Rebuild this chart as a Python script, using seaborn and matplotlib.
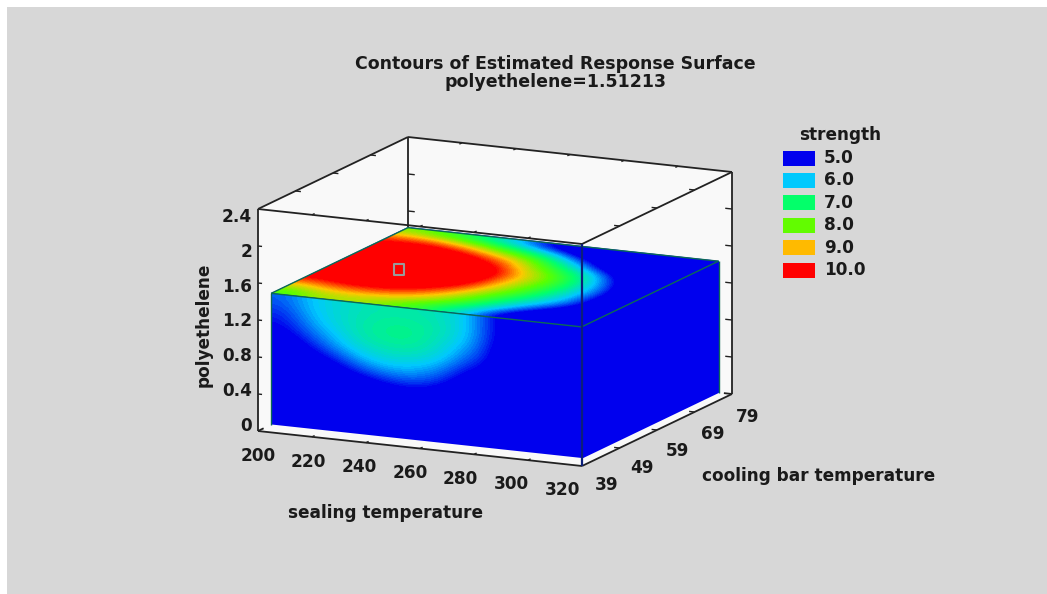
import numpy as np
import matplotlib.pyplot as plt
import seaborn as sns
from matplotlib.colors import Normalize
from matplotlib.patches import Polygon, Rectangle
from matplotlib.transforms import Affine2D

sealing_ticks = [200, 220, 240, 260, 280, 300, 320]
cooling_ticks = [39, 49, 59, 69, 79]
poly_ticks = [0, 0.4, 0.8, 1.2, 1.6, 2.0, 2.4]
poly_labels = ["0", "0.4", "0.8", "1.2", "1.6", "2", "2.4"]
levels = [5.0, 6.0, 7.0, 8.0, 9.0, 10.0]
level_colors = ["#0000ee", "#00c8ff", "#00ff6e", "#5aff00", "#ffc800", "#ff0000"]

# extent of the solid inside the box
cooling_front = 42.5
sealing_right = 315
poly_top = 1.42
marker_point = (223.5, 59.6)

# strength on the top face (rows = cooling low to high, columns = sealing low to high)
top_strength = [
    [7.8, 8.3, 8.5, 8.4, 8.1, 7.6, 6.9, 6.1, 5.1, 4.2, 3.5, 3.0],
    [9.0, 9.3, 9.4, 9.3, 9.0, 8.5, 7.8, 6.9, 6.0, 5.1, 4.2, 3.3],
    [10.0, 10.2, 10.3, 10.2, 9.8, 9.2, 8.3, 7.5, 6.6, 5.9, 5.1, 3.7],
    [10.6, 10.9, 11.0, 10.9, 10.5, 9.9, 8.9, 8.0, 7.1, 6.2, 5.2, 3.8],
    [10.9, 11.2, 11.4, 11.3, 10.9, 10.3, 9.2, 8.3, 7.4, 6.3, 5.3, 3.8],
    [10.9, 11.2, 11.4, 11.4, 11.0, 10.4, 9.3, 8.4, 7.4, 6.2, 4.9, 3.4],
    [10.8, 11.0, 11.1, 10.9, 10.4, 9.7, 8.6, 7.7, 6.8, 5.5, 4.2, 3.1],
    [10.3, 10.4, 10.4, 10.0, 9.4, 8.7, 7.7, 6.5, 5.2, 4.2, 3.4, 3.0],
    [9.6, 9.6, 9.2, 8.6, 7.8, 7.0, 6.1, 5.0, 4.2, 3.5, 3.0, 2.8],
    [8.2, 7.8, 7.3, 6.6, 5.9, 5.1, 4.4, 3.8, 3.2, 2.9, 2.7, 2.6],
]

# strength on the front face (rows = polyethelene high to low, columns = sealing low to high)
front_strength = [
    [5.5, 6.0, 6.3, 6.5, 6.6, 6.6, 6.5, 6.1, 5.2, 4.4, 3.6, 3.0],
    [5.2, 5.9, 6.3, 6.6, 6.8, 6.8, 6.6, 6.1, 5.2, 4.4, 3.6, 3.0],
    [5.0, 5.6, 6.1, 6.6, 6.8, 6.8, 6.4, 5.9, 5.1, 4.1, 3.4, 3.0],
    [4.6, 5.2, 5.8, 6.3, 6.5, 6.5, 6.2, 5.5, 5.0, 3.8, 3.2, 3.0],
    [4.2, 4.7, 5.2, 5.8, 6.1, 6.0, 5.7, 5.0, 4.6, 3.5, 3.1, 3.0],
    [3.7, 4.2, 4.6, 5.1, 5.4, 5.5, 5.2, 4.5, 3.8, 3.2, 3.0, 3.0],
    [3.2, 3.6, 4.0, 4.3, 4.7, 4.8, 4.5, 3.8, 3.3, 3.0, 3.0, 3.0],
    [3.0, 3.0, 3.3, 3.6, 3.8, 3.9, 3.7, 3.3, 3.0, 3.0, 3.0, 3.0],
    [3.0, 3.0, 3.0, 3.0, 3.0, 3.0, 3.0, 3.0, 3.0, 3.0, 3.0, 3.0],
    [3.0, 3.0, 3.0, 3.0, 3.0, 3.0, 3.0, 3.0, 3.0, 3.0, 3.0, 3.0],
]

# right face is below the lowest level everywhere
right_cooling = [42.5, 79]
right_poly = [1.42, 0.0]
right_strength = [[3.0, 3.0], [3.0, 3.0]]

BG = "#d7d7d7"
WALL = "#f9f9f9"
FONT = "DejaVu Sans"


def project(s, c, p):
    # the box is an oblique parallel projection, result in image pixels
    s, c, p = np.asarray(s, float), np.asarray(c, float), np.asarray(p, float)
    x = 258 + (s - 200) / 120 * 324 + (c - 39) / 40 * 150
    y = 431 + (s - 200) / 120 * 35 - (c - 39) / 40 * 72 - p / 2.4 * 222
    return x, y


def face_transform(fn):
    # affine map from a face's own two data axes to the image
    ox, oy = fn(0.0, 0.0)
    ax_, ay_ = fn(1.0, 0.0)
    bx, by = fn(0.0, 1.0)
    return Affine2D.from_values(ax_ - ox, ay_ - oy, bx - ox, by - oy, ox, oy)


def edge(ax, a, b, **kw):
    xa, ya = project(*a)
    xb, yb = project(*b)
    ax.plot([xa, xb], [ya, yb], solid_capstyle="butt", **kw)


sns.set_theme(style="white")
plt.rcParams["font.family"] = [FONT]
plt.rcParams["font.weight"] = "bold"

cmap = sns.blend_palette(level_colors, as_cmap=True).resampled(60)
norm = Normalize(vmin=levels[0], vmax=levels[-1])

fig = plt.figure(figsize=(10.47, 5.94), dpi=100, facecolor="white")
ax = fig.add_axes([0, 0, 1, 1])
ax.add_patch(Rectangle((7, 7), 1040, 587, fc=BG, ec="none", zorder=0))

s0, s1 = sealing_ticks[0], sealing_ticks[-1]
c0, c1 = cooling_ticks[0], cooling_ticks[-1]
p0, p1 = poly_ticks[0], poly_ticks[-1]

# walls of the box
outline = [(s0, c0, p1), (s0, c1, p1), (s1, c1, p1), (s1, c1, p0), (s1, c0, p0), (s0, c0, p0)]
ax.add_patch(Polygon([tuple(map(float, project(*q))) for q in outline], fc=WALL, ec="none", zorder=1))

dark = dict(color="#222222", lw=1.3, zorder=2)
thin = dict(color="#222222", lw=1.0, zorder=2)
edge(ax, (s0, c0, p1), (s0, c1, p1), **dark)
edge(ax, (s0, c1, p1), (s1, c1, p1), **dark)
edge(ax, (s1, c1, p1), (s1, c1, p0), **dark)
edge(ax, (s0, c0, p1), (s0, c0, p0), **dark)
edge(ax, (s0, c1, p1), (s0, c1, p0), **dark)
edge(ax, (s0, c0, p1), (s1, c0, p1), **dark)
edge(ax, (s1, c0, p1), (s1, c1, p1), **dark)
edge(ax, (s0, c0, p0), (s1, c0, p0), **dark)
edge(ax, (s1, c0, p0), (s1, c1, p0), **dark)
edge(ax, (s0, c0, p0), (s0, c0 + 1.5, p0), **dark)
edge(ax, (s1, c1, p0), (s1 - 3, c1, p0), **dark)

# tick marks along the box edges
for s in sealing_ticks[1:-1]:
    edge(ax, (s, c0, p1), (s, c0 + 0.7, p1), **thin)
    edge(ax, (s, c1, p1), (s, c1 - 0.7, p1), **thin)
    edge(ax, (s, c0, p0), (s, c0 + 0.7, p0), **thin)
for c in cooling_ticks[1:-1]:
    edge(ax, (s0, c, p1), (s0 + 2, c, p1), **thin)
    edge(ax, (s1, c, p1), (s1 - 2, c, p1), **thin)
    edge(ax, (s1, c, p0), (s1 - 2, c, p0), **thin)
for p in poly_ticks[1:-1]:
    edge(ax, (s0, c0, p), (s0 + 1.5, c0, p), **thin)
    edge(ax, (s0, c1, p), (s0 + 2.5, c1, p), **thin)
    edge(ax, (s1, c1, p), (s1 - 2.5, c1, p), **thin)

# faces of the solid
top_tf = face_transform(lambda s, c: project(s, c, poly_top))
ax.imshow(np.array(top_strength), cmap=cmap, norm=norm, origin="lower", aspect="auto",
          extent=(s0, sealing_right, cooling_front, c1), interpolation="bicubic",
          interpolation_stage="data", transform=top_tf + ax.transData, zorder=3)

front_tf = face_transform(lambda s, p: project(s, cooling_front, p))
ax.imshow(np.array(front_strength), cmap=cmap, norm=norm, origin="upper", aspect="auto",
          extent=(s0, sealing_right, 0, poly_top), interpolation="bicubic",
          interpolation_stage="data", transform=front_tf + ax.transData, zorder=3)

cg, pg = np.meshgrid(right_cooling, right_poly)
x, y = project(sealing_right, cg, pg)
ax.pcolormesh(x, y, np.array(right_strength), cmap=cmap, norm=norm, shading="gouraud", zorder=3)

# solid edges
teal = dict(color="#0b6a55", lw=1.0, zorder=4)
sr, cf = sealing_right, cooling_front
edge(ax, (s0, cf, poly_top), (sr, cf, poly_top), **teal)
edge(ax, (sr, cf, poly_top), (sr, c1, poly_top), **teal)
edge(ax, (s0, c1, poly_top), (sr, c1, poly_top), **teal)
edge(ax, (s0, cf, poly_top), (s0, c1, poly_top), **teal)
edge(ax, (s0, cf, poly_top), (s0, cf, 0), **teal)
edge(ax, (sr, c1, poly_top), (sr, c1, 0), **teal)

# front vertical of the box shows through the solid
edge(ax, (s1, c0, p1), (s1, c0, p0), color="#0c1f7a", lw=1.6, zorder=5)

# current point marker
mx, my = project(marker_point[0], marker_point[1], poly_top)
sns.scatterplot(x=[float(mx)], y=[float(my)], marker="s", s=55, facecolor="none",
                edgecolor="#9a9a9a", linewidth=1.5, ax=ax, zorder=6, legend=False)
ax.set_xlim(0, 1047)
ax.set_ylim(594, 0)
ax.axis("off")

txt = dict(fontsize=12.2, fontweight="bold", color="#1a1a1a", family=[FONT])
title_txt = dict(txt, fontsize=12.5)

# tick labels
for lab, lx, ly in zip(sealing_ticks, np.linspace(258, 562, 7), np.linspace(456, 490, 7)):
    ax.text(lx, ly, str(lab), ha="center", va="center", **txt)
for lab, lx, ly in zip(cooling_ticks, np.linspace(607, 748, 5), np.linspace(485, 417, 5)):
    ax.text(lx, ly, str(lab), ha="center", va="center", **txt)
for lab, ly in zip(poly_labels, np.linspace(426, 217, 7)):
    ax.text(252, ly, lab, ha="right", va="center", **txt)

ax.text(386, 513, "sealing temperature", ha="center", va="center", **txt)
ax.text(819, 476, "cooling bar temperature", ha="center", va="center", **txt)
ax.text(204, 325, "polyethelene", ha="center", va="center", rotation=90, **txt)

ax.text(555, 64, "Contours of Estimated Response Surface", ha="center", va="center", **title_txt)
ax.text(556, 82, "polyethelene=1.51213", ha="center", va="center", **title_txt)

# legend
ax.text(840, 135, "strength", ha="center", va="center", **txt)
for lev, ly in zip(levels, np.linspace(158, 270, 6)):
    ax.add_patch(Rectangle((783, ly - 7.5), 32, 15, fc=cmap(norm(lev)), ec="none", zorder=3))
    ax.text(824, ly, f"{lev:.1f}", ha="left", va="center", **txt)

fig.savefig("out.png", dpi=100, facecolor=fig.get_facecolor())
plt.close(fig)
